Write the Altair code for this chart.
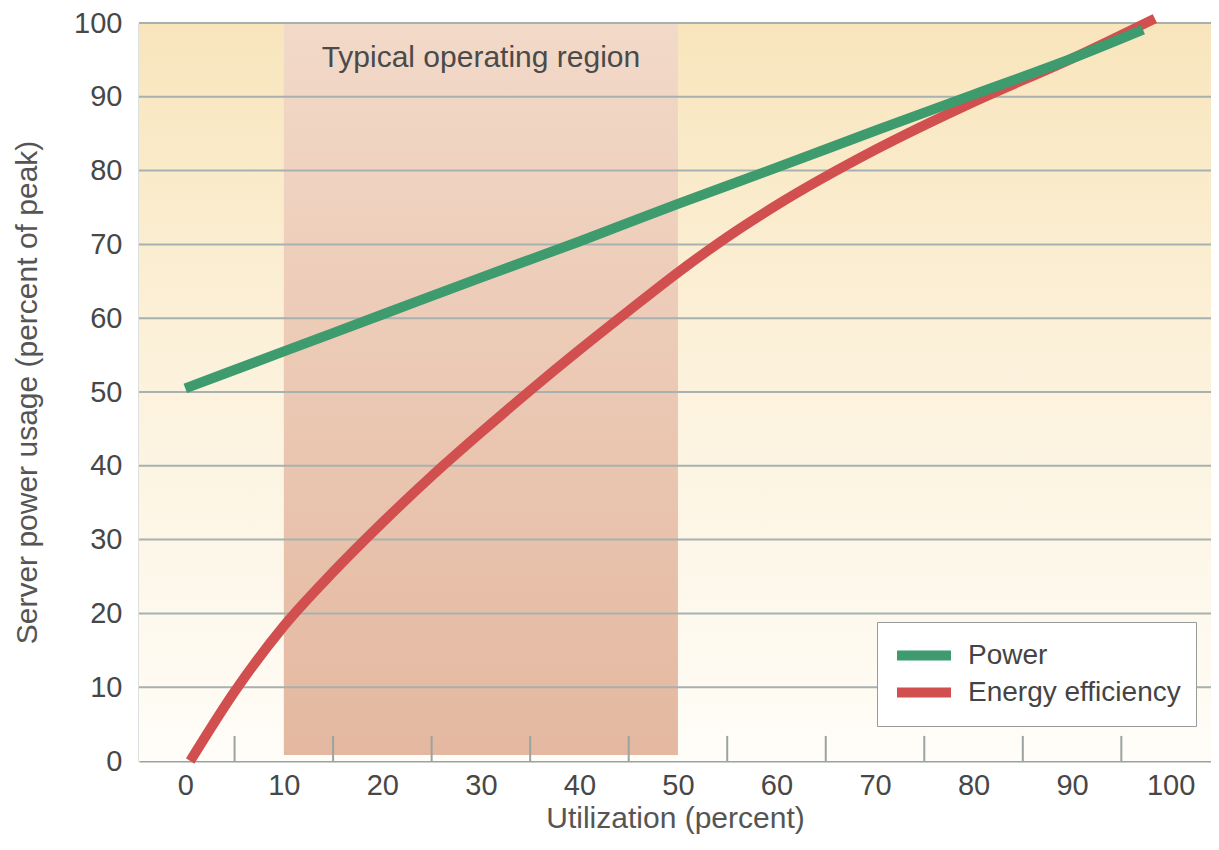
import altair as alt
import pandas as pd

# ---- data ----
power_x = [0, 10, 20, 30, 40, 50, 60, 70, 80, 90, 97.2]
power_y = [50.5, 55.5, 60.5, 65.5, 70.4, 75.5, 80.4, 85.4, 90.3, 95.2, 99.1]
eff_x = [0.5, 5, 10, 15, 20, 25, 30, 35, 40, 45, 50, 55, 60, 70, 80, 90, 98.4]
eff_y = [0.0, 9.4, 18.3, 25.6, 32.3, 38.6, 44.5, 50.2, 55.7, 61.0, 66.2, 71.0,
         75.3, 82.8, 89.3, 95.2, 100.6]
series_names = ["Power", "Energy efficiency"]
series_colors = ["#3d9b6e", "#d14f4f"]
x_ticks = list(range(0, 101, 10))
y_ticks = list(range(0, 101, 10))
minor_ticks = list(range(5, 100, 10))
region = [10, 50]
region_label = "Typical operating region"
region_label_pos = [30, 95.3]

X_MIN, X_MAX = -4.7, 104.1
Y_MIN, Y_MAX = 0, 100
FONT = "Liberation Sans"

power_df = pd.DataFrame({"x": power_x, "y": power_y, "series": series_names[0]})
eff_df = pd.DataFrame({"x": eff_x, "y": eff_y, "series": series_names[1]})
bg_df = pd.DataFrame({"x": [X_MIN], "x2": [X_MAX], "y": [Y_MIN], "y2": [Y_MAX]})
band_df = pd.DataFrame({"x": [region[0]], "x2": [region[1]], "y": [0.8], "y2": [Y_MAX]})
grid_df = pd.DataFrame({"y": [v for v in y_ticks if v > 0], "x": X_MIN, "x2": X_MAX})
minor_df = pd.DataFrame({"x": minor_ticks, "y": 0.0, "y2": 3.4})
label_df = pd.DataFrame({"x": [region_label_pos[0]], "y": [region_label_pos[1]], "t": [region_label]})

xscale = alt.Scale(domain=[X_MIN, X_MAX], nice=False, zero=False)
yscale = alt.Scale(domain=[Y_MIN, Y_MAX], nice=False)

xaxis = alt.Axis(
    title="Utilization (percent)", values=x_ticks, ticks=False, grid=False,
    domainColor="#9aa3a1", domainWidth=2, labelFont=FONT, labelFontSize=29,
    labelColor="#474747", labelPadding=10, titleFont=FONT, titleFontSize=30,
    titleFontWeight="normal", titleColor="#555555", titlePadding=3,
    labelFlush=False,
)
yaxis = alt.Axis(
    title="Server power usage (percent of peak)", values=y_ticks, ticks=False,
    grid=False, domainColor="#b9c4c2", domainWidth=2, labelFont=FONT,
    labelFontSize=29, labelColor="#474747", labelPadding=17, titleFont=FONT,
    titleFontSize=30, titleFontWeight="normal", titleColor="#555555",
    titlePadding=31, labelFlush=False,
)


def X(field="x"):
    return alt.X(f"{field}:Q", scale=xscale, axis=xaxis)


def Y(field="y"):
    return alt.Y(f"{field}:Q", scale=yscale, axis=yaxis)


bg = alt.Chart(bg_df).mark_rect(
    color=alt.Gradient(
        gradient="linear",
        stops=[alt.GradientStop(color="#f8e5bc", offset=0),
               alt.GradientStop(color="#fcf2dd", offset=0.5),
               alt.GradientStop(color="#fffdf8", offset=1)],
        x1=0, x2=0, y1=0, y2=1,
    )
).encode(x=X(), x2="x2:Q", y=Y(), y2="y2:Q")

band = alt.Chart(band_df).mark_rect(
    color=alt.Gradient(
        gradient="linear",
        stops=[alt.GradientStop(color="#f2d9c8", offset=0),
               alt.GradientStop(color="#e4b8a0", offset=1)],
        x1=0, x2=0, y1=0, y2=1,
    )
).encode(x=X(), x2="x2:Q", y=Y(), y2="y2:Q")

grid = alt.Chart(grid_df).mark_rule(color="#a7b1af", strokeWidth=2).encode(
    x=X(), x2="x2:Q", y=Y()
)

minor = alt.Chart(minor_df).mark_rule(color="#9aa3a1", strokeWidth=2).encode(
    x=X(), y=Y(), y2="y2:Q"
)

label = alt.Chart(label_df).mark_text(
    font=FONT, fontSize=30, color="#4a4a4a", align="center", baseline="middle"
).encode(x=X(), y=Y(), text="t:N")

color = alt.Color(
    "series:N",
    scale=alt.Scale(domain=series_names, range=series_colors),
    legend=alt.Legend(
        title=None, orient="none", legendX=738, legendY=599,
        symbolType="stroke", symbolSize=2916, symbolStrokeWidth=10,
        labelFont=FONT, labelFontSize=28, labelColor="#444444",
        labelLimit=400, fillColor="white", strokeColor="#9a9a9a",
        padding=15, clipHeight=37, labelOffset=12, rowPadding=0,
    ),
)

eff_line = alt.Chart(eff_df).mark_line(
    strokeWidth=10, interpolate="monotone", strokeCap="butt"
).encode(x=X(), y=Y(), color=color)

power_line = alt.Chart(power_df).mark_line(
    strokeWidth=10, interpolate="monotone", strokeCap="butt"
).encode(x=X(), y=Y(), color=color)

chart = alt.layer(bg, band, grid, minor, label, eff_line, power_line).properties(
    width=1072, height=738,
    autosize=alt.AutoSizeParams(type="none"),
    padding={"left": 131, "top": 15, "right": 0, "bottom": 75},
).configure_view(stroke=None)

chart.save("out.html", embed_options={"renderer": "svg", "actions": False})
